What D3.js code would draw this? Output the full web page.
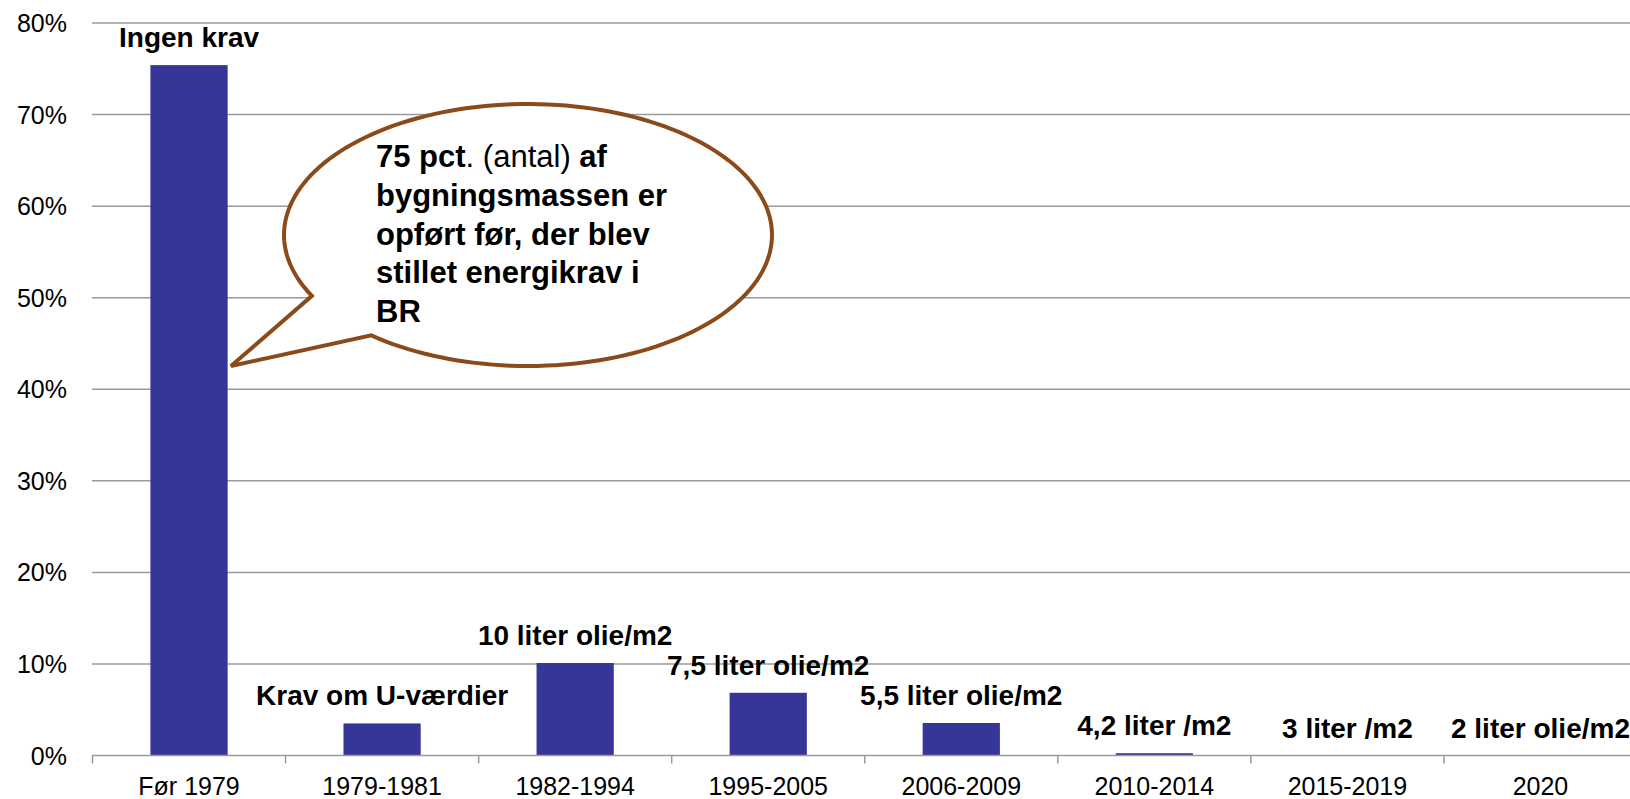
<!DOCTYPE html>
<html>
<head>
<meta charset="utf-8">
<script src="https://d3js.org/d3.v7.min.js"></script>
<style>
  body { margin: 0; background: #fff; }
  text { font-family: "Liberation Sans", Arial, sans-serif; }
</style>
</head>
<body>
<script>
// chart data
var categories = ["Før 1979", "1979-1981", "1982-1994", "1995-2005", "2006-2009", "2010-2014", "2015-2019", "2020"];
var shares = [75.4, 3.5, 10.1, 6.85, 3.55, 0.25, 0, 0];
var barLabels = ["Ingen krav", "Krav om U-værdier", "10 liter olie/m2", "7,5 liter olie/m2",
                 "5,5 liter olie/m2", "4,2 liter /m2", "3 liter /m2", "2 liter olie/m2"];
var yTicks = [0, 10, 20, 30, 40, 50, 60, 70, 80];

var width = 1630, height = 799;

var svg = d3.select("body").append("svg")
    .attr("width", width)
    .attr("height", height);

var x = d3.scaleBand().domain(categories).range([92.5, 1637]).padding(0);
var y = d3.scaleLinear().domain([0, 80]).range([755.5, 23]);

// gridlines
svg.append("g")
  .selectAll("line")
  .data(yTicks.filter(function (d) { return d > 0; }))
  .enter().append("line")
    .attr("x1", 92).attr("x2", width)
    .attr("y1", function (d) { return y(d); })
    .attr("y2", function (d) { return y(d); })
    .attr("stroke", "#9a9a9a")
    .attr("stroke-width", 1.5);

// y tick labels
svg.append("g")
  .selectAll("text")
  .data(yTicks)
  .enter().append("text")
    .attr("x", 67)
    .attr("y", function (d) { return y(d) + 9; })
    .attr("text-anchor", "end")
    .style("font-size", "25px")
    .text(function (d) { return d + "%"; });

// bars
var bw = x.bandwidth();
svg.append("g")
  .selectAll("rect")
  .data(categories)
  .enter().append("rect")
    .attr("x", function (d) { return x(d) + bw * 0.3; })
    .attr("width", bw * 0.4)
    .attr("y", function (d, i) { return y(shares[i]); })
    .attr("height", function (d, i) { return y(0) - y(shares[i]); })
    .attr("fill", "#363699");

// x axis baseline + ticks
svg.append("line")
    .attr("x1", 92).attr("x2", width)
    .attr("y1", y(0)).attr("y2", y(0))
    .attr("stroke", "#9a9a9a").attr("stroke-width", 1.5);

svg.append("g")
  .selectAll("line")
  .data(categories)
  .enter().append("line")
    .attr("x1", function (d) { return x(d); })
    .attr("x2", function (d) { return x(d); })
    .attr("y1", y(0)).attr("y2", y(0) + 8)
    .attr("stroke", "#9a9a9a").attr("stroke-width", 1.5);

svg.append("g")
  .selectAll("text")
  .data(categories)
  .enter().append("text")
    .attr("x", function (d) { return x(d) + bw / 2; })
    .attr("y", 795)
    .attr("text-anchor", "middle")
    .style("font-size", "25px")
    .text(function (d) { return d; });

// labels over the bars
svg.append("g")
  .selectAll("text")
  .data(categories)
  .enter().append("text")
    .attr("x", function (d) { return x(d) + bw / 2; })
    .attr("y", function (d, i) { return y(shares[i]) - 18; })
    .attr("text-anchor", "middle")
    .style("font-size", "28px")
    .style("font-weight", "bold")
    .text(function (d, i) { return barLabels[i]; });

// speech bubble
var cx = 528, cy = 235, rx = 244, ry = 131;
var a1 = Math.atan2((295 - cy) / ry, (315 - cx) / rx);  // upper joint of tail
var a2 = Math.atan2((333 - cy) / ry, (375 - cx) / rx);  // lower joint of tail
var p = d3.path();
p.moveTo(cx + rx * Math.cos(a2), cy + ry * Math.sin(a2));
// long way round: from a2 down through 0 to a1 - 2pi
var end = a1 > a2 ? a1 - 2 * Math.PI : a1;
var steps = 160;
for (var s = 1; s <= steps; s++) {
  var t = a2 + (end - a2) * s / steps;
  p.lineTo(cx + rx * Math.cos(t), cy + ry * Math.sin(t));
}
p.lineTo(231, 366);
p.closePath();

svg.append("path")
    .attr("d", p.toString())
    .attr("fill", "#fff")
    .attr("stroke", "#8b4a1a")
    .attr("stroke-width", 4)
    .attr("stroke-linejoin", "miter");

var lines = [
  [["75 pct", "bold"], [". (antal) ", "normal"], ["af", "bold"]],
  [["bygningsmassen er", "bold"]],
  [["opført før, der blev", "bold"]],
  [["stillet energikrav i", "bold"]],
  [["BR", "bold"]]
];
var note = svg.append("text")
    .attr("x", 376)
    .attr("y", 167.3)
    .style("font-size", "31px");
lines.forEach(function (ln, i) {
  ln.forEach(function (part, j) {
    var ts = note.append("tspan")
        .style("font-weight", part[1])
        .text(part[0]);
    if (j === 0) ts.attr("x", 376).attr("dy", i === 0 ? 0 : 38.6);
  });
});
</script>
</body>
</html>
